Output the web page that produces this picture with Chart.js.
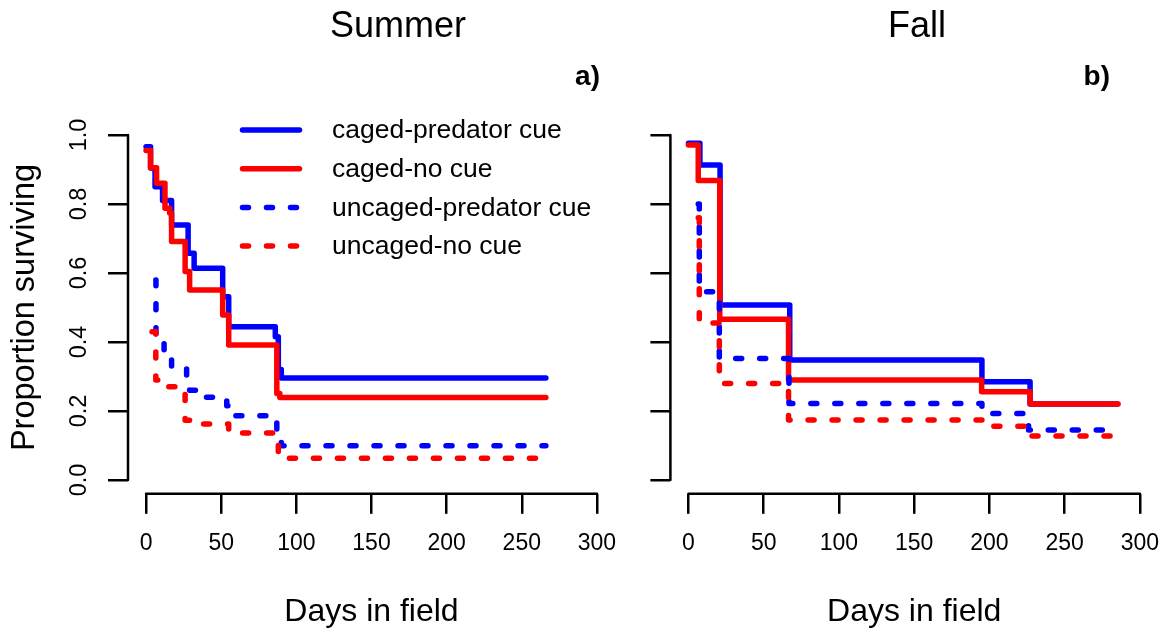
<!DOCTYPE html>
<html>
<head>
<meta charset="utf-8">
<script src="https://cdn.jsdelivr.net/npm/chart.js@4.4.0/dist/chart.umd.min.js"></script>
<style>
  html, body { margin: 0; padding: 0; background: #fff; }
  body { width: 1167px; height: 630px; position: relative; overflow: hidden; }
  .panel { position: absolute; top: 0; height: 630px; }
  #summerBox { left: 0; width: 640px; }
  #fallBox { left: 640px; width: 527px; }
</style>
</head>
<body>
<div class="panel" id="summerBox"><canvas id="summer"></canvas></div>
<div class="panel" id="fallBox"><canvas id="fall"></canvas></div>
<script>
const seriesNames = ['caged-predator cue', 'caged-no cue', 'uncaged-predator cue', 'uncaged-no cue'];
const xTicks = [0, 50, 100, 150, 200, 250, 300];
const yTicks = [0, 0.2, 0.4, 0.6, 0.8, 1.0];

// Summer (days in field, proportion surviving; each value holds from its day on)
const summerCagedPredDays = [0, 3, 6, 11, 17, 28, 32, 51, 55, 86, 88, 90, 266];
const summerCagedPredSurv = [0.966, 0.904, 0.85, 0.81, 0.739, 0.657, 0.614, 0.531, 0.444, 0.415, 0.32, 0.296, 0.296];
const summerCagedNoDays = [0, 3, 7, 12.6, 15.7, 17, 26, 29, 51, 55, 87, 89, 266];
const summerCagedNoSurv = [0.955, 0.905, 0.86, 0.788, 0.774, 0.691, 0.604, 0.551, 0.478, 0.391, 0.251, 0.239, 0.239];
const summerUncagedPredDays = [6.5, 6.6, 12, 17, 27, 29, 36, 53.7, 55, 87, 90, 266];
const summerUncagedPredSurv = [0.58, 0.40, 0.36, 0.325, 0.29, 0.26, 0.24, 0.215, 0.186, 0.12, 0.0995, 0.0995];
const summerUncagedNoDays = [4, 6.5, 12, 26, 37, 55, 88, 90, 266];
const summerUncagedNoSurv = [0.43, 0.29, 0.27, 0.1735, 0.162, 0.136, 0.08, 0.063, 0.063];

// Fall
const fallCagedPredDays = [0, 7.6, 21, 67.3, 195, 227, 285];
const fallCagedPredSurv = [0.976, 0.913, 0.507, 0.348, 0.285, 0.22, 0.22];
const fallCagedNoDays = [0, 6.5, 20.8, 66.5, 194.8, 227, 285.5];
const fallCagedNoSurv = [0.971, 0.868, 0.466, 0.29, 0.256, 0.22, 0.22];
const fallUncagedPredDays = [6.5, 7.2, 20.5, 66.8, 195, 226, 285];
const fallUncagedPredSurv = [0.80, 0.546, 0.352, 0.222, 0.193, 0.145, 0.145];
const fallUncagedNoDays = [6.5, 7.2, 20.5, 66.5, 195, 226, 285];
const fallUncagedNoSurv = [0.76, 0.455, 0.28, 0.174, 0.156, 0.1275, 0.1275];

const FONT = '"Liberation Sans", Arial, Helvetica, sans-serif';
Chart.defaults.font.family = FONT;
Chart.defaults.color = '#000';

const styles = [
  { color: '#0000ff', dash: [], order: 4 },
  { color: '#ff0000', dash: [], order: 3 },
  { color: '#0000ff', dash: [6, 18], order: 2 },
  { color: '#ff0000', dash: [6, 18], order: 1 },
];

function kmPoints(days, surv) {
  return days.map((d, i) => ({ x: d, y: surv[i] }));
}

function buildDatasets(series) {
  return series.map((s, i) => ({
    label: seriesNames[i],
    data: kmPoints(s[0], s[1]),
    stepped: true,
    borderColor: styles[i].color,
    borderWidth: 5.5,
    borderDash: styles[i].dash,
    borderCapStyle: 'round',
    borderJoinStyle: 'round',
    pointRadius: 0,
    fill: false,
    order: styles[i].order,
  }));
}

// R-like decorations: detached axis lines, panel title, panel tag, inset legend
const rDecor = {
  id: 'rDecor',
  afterDraw(chart, args, opts) {
    const { ctx, chartArea, scales: { x, y } } = chart;
    ctx.save();
    ctx.strokeStyle = '#000';
    ctx.lineWidth = 2.5;
    ctx.lineCap = 'round';
    ctx.beginPath();
    ctx.moveTo(x.getPixelForValue(xTicks[0]), chartArea.bottom);
    ctx.lineTo(x.getPixelForValue(xTicks[xTicks.length - 1]), chartArea.bottom);
    ctx.moveTo(chartArea.left, y.getPixelForValue(yTicks[0]));
    ctx.lineTo(chartArea.left, y.getPixelForValue(yTicks[yTicks.length - 1]));
    ctx.stroke();

    ctx.fillStyle = '#000';
    ctx.textAlign = 'center';
    ctx.textBaseline = 'alphabetic';
    ctx.font = '36px ' + FONT;
    ctx.fillText(opts.title, opts.titleX, 37);
    ctx.textAlign = 'right';
    ctx.font = 'bold 28px ' + FONT;
    ctx.fillText(opts.tag, opts.tagX, 85);

    if (opts.legend) {
      ctx.font = '26.5px ' + FONT;
      ctx.textAlign = 'left';
      ctx.textBaseline = 'middle';
      chart.data.datasets.forEach((ds, i) => {
        const ly = 130 + i * 38.7;
        ctx.strokeStyle = ds.borderColor;
        ctx.lineWidth = ds.borderWidth;
        ctx.setLineDash(ds.borderDash);
        ctx.beginPath();
        ctx.moveTo(242.5, ly);
        ctx.lineTo(299.5, ly);
        ctx.stroke();
        ctx.setLineDash([]);
        ctx.fillText(ds.label, 332, ly + 1);
      });
    }
    ctx.restore();
  }
};

function makeChart(id, series, cfg) {
  return new Chart(document.getElementById(id), {
    type: 'line',
    data: { datasets: buildDatasets(series) },
    plugins: [rDecor],
    options: {
      responsive: true,
      maintainAspectRatio: false,
      animation: false,
      layout: { padding: { top: 121.2, right: cfg.padRight, left: 0, bottom: 0 } },
      plugins: {
        legend: { display: false },
        tooltip: { enabled: false },
        rDecor: cfg.decor,
      },
      scales: {
        x: {
          type: 'linear',
          min: -12,
          max: 312,
          afterBuildTicks: s => { s.ticks = xTicks.map(v => ({ value: v })); },
          afterFit: s => { s.height = 630 - 493.8; s.paddingLeft = 0; s.paddingRight = 0; },
          border: { display: false },
          grid: { drawOnChartArea: false, drawTicks: true, tickLength: 20, color: '#000', lineWidth: 2.5 },
          ticks: { font: { size: 23 }, color: '#000', padding: 16, maxRotation: 0, autoSkip: false },
          title: { display: true, text: 'Days in field', font: { size: 32, lineHeight: 1 }, color: '#000', padding: { top: 0, bottom: 2 } },
        },
        y: {
          type: 'linear',
          min: -0.04,
          max: 1.04,
          afterBuildTicks: s => { s.ticks = yTicks.map(v => ({ value: v })); },
          afterFit: s => { s.width = cfg.yWidth; s.paddingTop = 0; s.paddingBottom = 0; },
          border: { display: false },
          grid: { drawOnChartArea: false, drawTicks: true, tickLength: 20, color: '#000', lineWidth: 2.5 },
          ticks: {
            display: cfg.yLabels,
            font: { size: 23.5 },
            color: '#000',
            minRotation: 90,
            maxRotation: 90,
            crossAlign: 'center',
            padding: 12,
            callback: v => Number(v).toFixed(1),
          },
          title: { display: cfg.yLabels, text: 'Proportion surviving', font: { size: 32.5, lineHeight: 1 }, color: '#000', padding: { top: 9, bottom: 0 } },
        },
      },
    },
  });
}

makeChart('summer', [
  [summerCagedPredDays, summerCagedPredSurv],
  [summerCagedNoDays, summerCagedNoSurv],
  [summerUncagedPredDays, summerUncagedPredSurv],
  [summerUncagedNoDays, summerUncagedNoSurv],
], {
  padRight: 25, yWidth: 128, yLabels: true,
  decor: { title: 'Summer', titleX: 398, tag: 'a)', tagX: 600, legend: true },
});

makeChart('fall', [
  [fallCagedPredDays, fallCagedPredSurv],
  [fallCagedNoDays, fallCagedNoSurv],
  [fallUncagedPredDays, fallUncagedPredSurv],
  [fallUncagedNoDays, fallUncagedNoSurv],
], {
  padRight: 9, yWidth: 30.4, yLabels: false,
  decor: { title: 'Fall', titleX: 917 - 640, tag: 'b)', tagX: 1110 - 640, legend: false },
});
</script>
</body>
</html>
